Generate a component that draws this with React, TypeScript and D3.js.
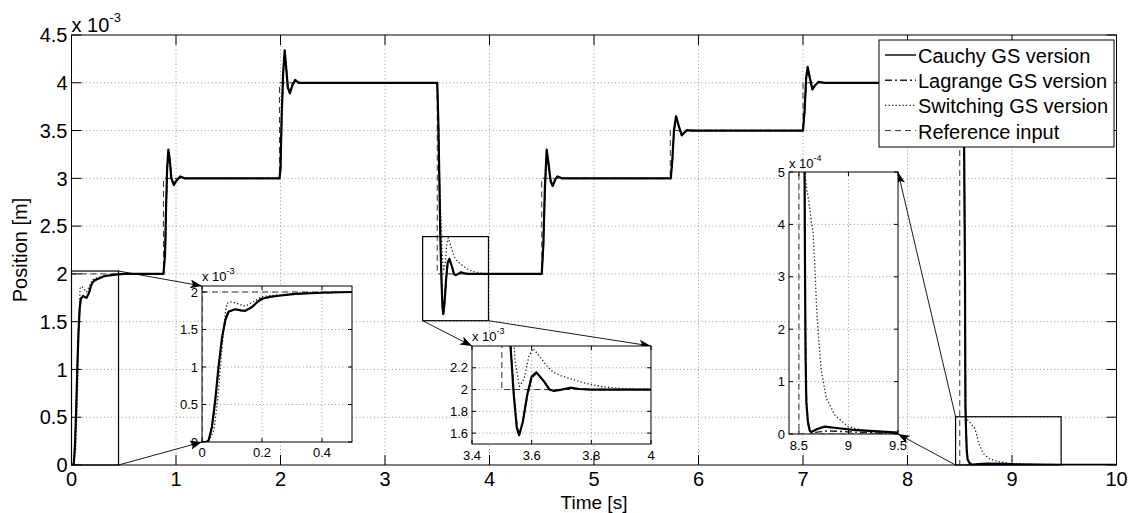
import * as d3 from "d3";

type Pt = [number, number];

// values in units of 1e-3 m
const cauchyPts: Pt[] = [
  [0, 0], [0.015, 0], [0.022, 0.02], [0.033, 0.2], [0.044, 0.55], [0.055, 1.0], [0.067, 1.4], [0.078, 1.63],
  [0.089, 1.74], [0.111, 1.77], [0.13, 1.755], [0.144, 1.75], [0.167, 1.8], [0.185, 1.87], [0.2, 1.91],
  [0.225, 1.935], [0.255, 1.95], [0.311, 1.975], [0.4, 1.99], [0.5, 2.0],
  [0.88, 2.0], [0.895, 2.2], [0.905, 2.7], [0.915, 3.1], [0.927, 3.3], [0.94, 3.2], [0.955, 3.0], [0.98, 2.93],
  [1.0, 2.97], [1.04, 3.02], [1.08, 3.0],
  [1.99, 3.0], [2.0, 3.1], [2.01, 3.6], [2.025, 4.1], [2.04, 4.34], [2.055, 4.15], [2.07, 3.95], [2.09, 3.89],
  [2.115, 3.98], [2.14, 4.03], [2.17, 4.0], [2.25, 4.0],
  [3.5, 4.0], [3.51, 3.6], [3.52, 3.0], [3.529, 2.4], [3.54, 1.95], [3.55, 1.65], [3.558, 1.58], [3.57, 1.7],
  [3.585, 1.95], [3.6, 2.12], [3.616, 2.158], [3.64, 2.08], [3.66, 2.0], [3.675, 1.987], [3.7, 2.0],
  [3.728, 2.017], [3.76, 2.005], [3.8, 2.0],
  [4.5, 2.0], [4.515, 2.3], [4.53, 2.9], [4.547, 3.3], [4.565, 3.15], [4.585, 2.97], [4.605, 2.92], [4.63, 2.99],
  [4.65, 3.02], [4.69, 3.0], [4.74, 3.0],
  [5.735, 3.0], [5.75, 3.2], [5.765, 3.5], [5.785, 3.65], [5.81, 3.55], [5.84, 3.45], [5.865, 3.48], [5.89, 3.505],
  [5.93, 3.5],
  [7.0, 3.5], [7.015, 3.7], [7.03, 4.05], [7.045, 4.166], [7.065, 4.05], [7.09, 3.93], [7.12, 3.98], [7.15, 4.01],
  [7.2, 4.0],
  [8.538, 4.0], [8.55, 2.0], [8.554, 0.6], [8.558, 0.45], [8.562, 0.3], [8.567, 0.15], [8.575, 0.06], [8.59, 0.025],
  [8.61, 0.006], [8.626, 0.004], [8.68, 0.009], [8.76, 0.014], [8.9, 0.011], [9.05, 0.008], [9.3, 0.005],
  [9.5, 0.0025], [10, 0.001],
];

const lagrangePts: Pt[] = [
  [0, 0], [0.016, 0], [0.023, 0.03], [0.034, 0.22], [0.045, 0.58], [0.056, 1.03], [0.068, 1.42], [0.079, 1.64],
  [0.09, 1.74], [0.111, 1.765], [0.13, 1.75], [0.145, 1.748], [0.168, 1.8], [0.186, 1.87], [0.2, 1.905],
  [0.225, 1.93], [0.255, 1.948], [0.311, 1.973], [0.4, 1.99], [0.5, 2.0],
  [0.88, 2.0], [0.896, 2.2], [0.906, 2.7], [0.916, 3.1], [0.928, 3.29], [0.941, 3.19], [0.956, 3.0], [0.981, 2.935],
  [1.001, 2.97], [1.041, 3.018], [1.08, 3.0],
  [1.99, 3.0], [2.001, 3.1], [2.011, 3.6], [2.026, 4.1], [2.041, 4.33], [2.056, 4.14], [2.071, 3.95], [2.091, 3.895],
  [2.116, 3.98], [2.141, 4.028], [2.17, 4.0], [2.25, 4.0],
  [3.5, 4.0], [3.511, 3.6], [3.521, 3.0], [3.53, 2.4], [3.541, 1.95], [3.551, 1.66], [3.559, 1.59], [3.571, 1.71],
  [3.586, 1.95], [3.601, 2.11], [3.617, 2.15], [3.641, 2.075], [3.661, 2.0], [3.676, 1.99], [3.701, 2.0],
  [3.729, 2.014], [3.76, 2.004], [3.8, 2.0],
  [4.5, 2.0], [4.516, 2.3], [4.531, 2.9], [4.548, 3.29], [4.566, 3.14], [4.586, 2.97], [4.606, 2.925], [4.631, 2.99],
  [4.651, 3.018], [4.69, 3.0], [4.74, 3.0],
  [5.735, 3.0], [5.751, 3.2], [5.766, 3.5], [5.786, 3.645], [5.811, 3.55], [5.841, 3.455], [5.866, 3.48],
  [5.891, 3.503], [5.93, 3.5],
  [7.0, 3.5], [7.016, 3.7], [7.031, 4.05], [7.046, 4.16], [7.066, 4.05], [7.091, 3.935], [7.121, 3.98],
  [7.151, 4.008], [7.2, 4.0],
  [8.538, 4.0], [8.55, 2.0], [8.556, 0.6], [8.561, 0.35], [8.566, 0.2], [8.574, 0.08], [8.59, 0.02], [8.61, 0.004],
  [8.63, 0.002], [8.7, 0.004], [8.8, 0.006], [9.0, 0.004], [9.3, 0.002], [9.5, 0.001], [10, 0],
];

const switchingPts: Pt[] = [
  [0, 0], [0.02, 0], [0.039, 0.15], [0.044, 0.29], [0.055, 0.69], [0.064, 1.13], [0.072, 1.49], [0.078, 1.72],
  [0.083, 1.85], [0.1, 1.87], [0.122, 1.84], [0.144, 1.81], [0.167, 1.86], [0.2, 1.94], [0.25, 1.96],
  [0.35, 1.99], [0.5, 2.0],
  [0.88, 2.0], [0.897, 2.2], [0.907, 2.7], [0.917, 3.1], [0.93, 3.26], [0.945, 3.15], [0.96, 3.0], [0.985, 2.94],
  [1.01, 2.98], [1.045, 3.015], [1.1, 3.0],
  [1.99, 3.0], [2.002, 3.1], [2.012, 3.6], [2.027, 4.1], [2.042, 4.3], [2.058, 4.12], [2.073, 3.96], [2.093, 3.9],
  [2.118, 3.98], [2.145, 4.025], [2.2, 4.0],
  [3.5, 4.0], [3.512, 3.5], [3.525, 2.8], [3.535, 2.6], [3.545, 2.25], [3.559, 2.03], [3.575, 2.1], [3.59, 2.3],
  [3.605, 2.377], [3.625, 2.31], [3.65, 2.22], [3.672, 2.16], [3.7, 2.125], [3.728, 2.1], [3.784, 2.055],
  [3.84, 2.025], [3.9, 2.01], [3.95, 2.004], [4.0, 2.0],
  [4.5, 2.0], [4.517, 2.3], [4.532, 2.9], [4.55, 3.27], [4.568, 3.14], [4.588, 2.97], [4.608, 2.93], [4.633, 2.99],
  [4.655, 3.015], [4.72, 3.0],
  [5.735, 3.0], [5.752, 3.2], [5.767, 3.5], [5.787, 3.63], [5.812, 3.55], [5.842, 3.46], [5.867, 3.48],
  [5.893, 3.503], [5.95, 3.5],
  [7.0, 3.5], [7.017, 3.7], [7.032, 4.05], [7.047, 4.15], [7.067, 4.05], [7.092, 3.94], [7.122, 3.98],
  [7.152, 4.008], [7.2, 4.0],
  [8.538, 4.0], [8.55, 2.0], [8.556, 0.6], [8.565, 0.49], [8.58, 0.465], [8.595, 0.45], [8.61, 0.43],
  [8.625, 0.405], [8.642, 0.387], [8.66, 0.323], [8.677, 0.247], [8.693, 0.196], [8.727, 0.119], [8.778, 0.068],
  [8.862, 0.036], [8.996, 0.014], [9.198, 0.0045], [9.5, 0.002], [10, 0],
];

const referencePts: Pt[] = [
  [0, 0], [0, 2], [0.88, 2], [0.88, 3], [1.99, 3], [1.99, 4], [3.5, 4], [3.5, 2], [4.5, 2], [4.5, 3],
  [5.73, 3], [5.73, 3.5], [7.0, 3.5], [7.0, 4], [8.5, 4], [8.5, 0], [10, 0],
];

const legendLabels = ["Cauchy GS version", "Lagrange GS version", "Switching GS version", "Reference input"];

const mainXTicks = [0, 1, 2, 3, 4, 5, 6, 7, 8, 9, 10];
const mainYTicks = [0, 0.5, 1, 1.5, 2, 2.5, 3, 3.5, 4, 4.5];
const inset1XTicks = [0, 0.2, 0.4];
const inset1YTicks = [0, 0.5, 1, 1.5, 2];
const inset2XTicks = [3.4, 3.6, 3.8, 4];
const inset2YTicks = [1.6, 1.8, 2, 2.2];
const inset3XTicks = [8.5, 9, 9.5];
const inset3YTicks = [0, 0.1, 0.2, 0.3, 0.4, 0.5];
const inset3YLabels = ["0", "1", "2", "3", "4", "5"];

const FONT = "'Liberation Sans', Arial, sans-serif";

const seriesStyles = [
  { pts: cauchyPts, stroke: "#000", width: 2.2, dash: "none" },
  { pts: lagrangePts, stroke: "#1c2a1c", width: 1.4, dash: "7,3,2,3" },
  { pts: switchingPts, stroke: "#222", width: 1.3, dash: "1.3,2.2" },
  { pts: referencePts, stroke: "#333", width: 1, dash: "6,4" },
];

interface PanelProps {
  id: string;
  left: number;
  top: number;
  width: number;
  height: number;
  xDomain: [number, number];
  yDomain: [number, number];
  xTicks: number[];
  yTicks: number[];
  yLabels?: string[];
  fs: number;
  tickLen: number;
  xLabelDy: number;
  exponent: string;
  expFs: number;
  expDy: number;
}

function Panel(p: PanelProps) {
  const x = d3.scaleLinear().domain(p.xDomain).range([p.left, p.left + p.width]);
  const y = d3.scaleLinear().domain(p.yDomain).range([p.top + p.height, p.top]);
  const line = d3.line<Pt>().x((d) => x(d[0])).y((d) => y(d[1]));
  const bottom = p.top + p.height;
  const right = p.left + p.width;
  const eps = 1e-9;
  const gridX = p.xTicks.filter((t) => t > p.xDomain[0] + eps && t < p.xDomain[1] - eps);
  const gridY = p.yTicks.filter((t) => t > p.yDomain[0] + eps && t < p.yDomain[1] - eps);

  return (
    <g>
      <defs>
        <clipPath id={p.id}>
          <rect x={p.left} y={p.top} width={p.width} height={p.height} />
        </clipPath>
      </defs>
      <rect x={p.left} y={p.top} width={p.width} height={p.height} fill="#fff" />
      <g stroke="#8a8a8a" strokeWidth={0.9} strokeDasharray="1,2.6">
        {gridX.map((t) => (
          <line key={"gx" + t} x1={x(t)} x2={x(t)} y1={p.top} y2={bottom} />
        ))}
        {gridY.map((t) => (
          <line key={"gy" + t} x1={p.left} x2={right} y1={y(t)} y2={y(t)} />
        ))}
      </g>
      <g clipPath={`url(#${p.id})`} fill="none" strokeLinejoin="round">
        {seriesStyles
          .slice()
          .reverse()
          .map((s, i) => (
            <path
              key={i}
              d={line(s.pts) || ""}
              stroke={s.stroke}
              strokeWidth={s.width}
              strokeDasharray={s.dash}
            />
          ))}
      </g>
      <rect x={p.left} y={p.top} width={p.width} height={p.height} fill="none" stroke="#000" strokeWidth={1} />
      <g stroke="#000" strokeWidth={1}>
        {p.xTicks.map((t) => (
          <g key={"tx" + t}>
            <line x1={x(t)} x2={x(t)} y1={bottom} y2={bottom - p.tickLen} />
            <line x1={x(t)} x2={x(t)} y1={p.top} y2={p.top + p.tickLen} />
          </g>
        ))}
        {p.yTicks.map((t) => (
          <g key={"ty" + t}>
            <line x1={p.left} x2={p.left + p.tickLen} y1={y(t)} y2={y(t)} />
            <line x1={right} x2={right - p.tickLen} y1={y(t)} y2={y(t)} />
          </g>
        ))}
      </g>
      <g fontFamily={FONT} fontSize={p.fs} fill="#000">
        {p.xTicks.map((t) => (
          <text key={"lx" + t} x={x(t)} y={bottom + p.xLabelDy} textAnchor="middle">
            {String(t)}
          </text>
        ))}
        {p.yTicks.map((t, i) => (
          <text key={"ly" + t} x={p.left - 4} y={y(t)} dy="0.36em" textAnchor="end">
            {p.yLabels ? p.yLabels[i] : String(t)}
          </text>
        ))}
        <text x={p.left} y={p.top - p.expDy}>
          x 10
          <tspan fontSize={p.expFs} dy={-p.expFs * 0.75}>
            {p.exponent}
          </tspan>
        </text>
      </g>
    </g>
  );
}

export default function App() {
  const W = 1132;
  const H = 513;
  const mLeft = 71.5;
  const mTop = 35;
  const mW = 1045;
  const mH = 430;
  const mx = d3.scaleLinear().domain([0, 10]).range([mLeft, mLeft + mW]);
  const my = d3.scaleLinear().domain([0, 4.5]).range([mTop + mH, mTop]);

  const in1 = { left: 202, top: 286, width: 150, height: 156 };
  const in2 = { left: 472, top: 346, width: 179, height: 98 };
  const in3 = { left: 789, top: 172, width: 109, height: 262 };

  // zoom windows on the main axes, in data units
  const box1 = { t0: 0, t1: 0.45, v0: 0, v1: 2.03 };
  const box2 = { t0: 3.36, t1: 3.99, v0: 1.51, v1: 2.39 };
  const box3 = { t0: 8.46, t1: 9.47, v0: 0, v1: 0.505 };

  const arrows: [number, number, number, number][] = [
    [mx(box1.t1), my(box1.v1), in1.left, in1.top],
    [mx(box1.t1), my(box1.v0), in1.left, in1.top + in1.height],
    [mx(box2.t0), my(box2.v0), in2.left, in2.top],
    [mx(box2.t1), my(box2.v0), in2.left + in2.width, in2.top],
    [mx(box3.t0), my(box3.v1), in3.left + in3.width, in3.top],
    [mx(box3.t0), my(box3.v0), in3.left + in3.width, in3.top + in3.height],
  ];

  const boxes = [box1, box2, box3];

  const legX = 879;
  const legY = 40;
  const legRow = 25.2;

  return (
    <div style={{ position: "absolute", left: 0, top: 0 }}>
      <svg width={W} height={H} viewBox={`0 0 ${W} ${H}`} style={{ display: "block", background: "#fff" }}>
        <defs>
          <marker id="ah" markerUnits="userSpaceOnUse" markerWidth={13} markerHeight={9} refX={12} refY={4.5} orient="auto">
            <path d="M0,0 L12,4.5 L0,9 L3,4.5 z" fill="#000" />
          </marker>
        </defs>
        <rect width={W} height={H} fill="#fff" />

        <Panel
          id="clipMain"
          left={mLeft}
          top={mTop}
          width={mW}
          height={mH}
          xDomain={[0, 10]}
          yDomain={[0, 4.5]}
          xTicks={mainXTicks}
          yTicks={mainYTicks}
          fs={20}
          tickLen={10}
          xLabelDy={20.5}
          exponent="-3"
          expFs={13}
          expDy={3}
        />

        {boxes.map((b, i) => (
          <rect
            key={"box" + i}
            x={mx(b.t0)}
            y={my(b.v1)}
            width={mx(b.t1) - mx(b.t0)}
            height={my(b.v0) - my(b.v1)}
            fill="none"
            stroke="#000"
            strokeWidth={1.2}
          />
        ))}

        {arrows.map((a, i) => (
          <line key={"ar" + i} x1={a[0]} y1={a[1]} x2={a[2]} y2={a[3]} stroke="#000" strokeWidth={0.9} markerEnd="url(#ah)" />
        ))}

        <Panel
          id="clip1"
          {...in1}
          xDomain={[0, 0.5]}
          yDomain={[0, 2.08]}
          xTicks={inset1XTicks}
          yTicks={inset1YTicks}
          fs={13}
          tickLen={4}
          xLabelDy={15}
          exponent="-3"
          expFs={9}
          expDy={5}
        />
        <Panel
          id="clip2"
          {...in2}
          xDomain={[3.4, 4]}
          yDomain={[1.5, 2.4]}
          xTicks={inset2XTicks}
          yTicks={inset2YTicks}
          fs={13}
          tickLen={4}
          xLabelDy={15.5}
          exponent="-3"
          expFs={9}
          expDy={5}
        />
        <Panel
          id="clip3"
          {...in3}
          xDomain={[8.4, 9.5]}
          yDomain={[0, 0.5]}
          xTicks={inset3XTicks}
          yTicks={inset3YTicks}
          yLabels={inset3YLabels}
          fs={13}
          tickLen={4}
          xLabelDy={15.5}
          exponent="-4"
          expFs={9}
          expDy={4}
        />

        {/* legend */}
        <g>
          <rect x={legX} y={legY} width={235} height={107} fill="#fff" stroke="#000" strokeWidth={1} />
          {legendLabels.map((lab, i) => {
            const s = seriesStyles[i];
            const cy = legY + 15 + i * legRow;
            return (
              <g key={lab}>
                <line
                  x1={885}
                  x2={916}
                  y1={cy}
                  y2={cy}
                  stroke={s.stroke}
                  strokeWidth={Math.min(s.width, 1.4)}
                  strokeDasharray={s.dash}
                />
                <text x={918} y={cy + 8} fontFamily={FONT} fontSize={20} fill="#000">
                  {lab}
                </text>
              </g>
            );
          })}
        </g>

        {/* axis titles */}
        <text x={594} y={508.5} textAnchor="middle" fontFamily={FONT} fontSize={19}>
          Time [s]
        </text>
        <text transform="translate(27,250) rotate(-90)" textAnchor="middle" fontFamily={FONT} fontSize={20}>
          Position [m]
        </text>
      </svg>
    </div>
  );
}
